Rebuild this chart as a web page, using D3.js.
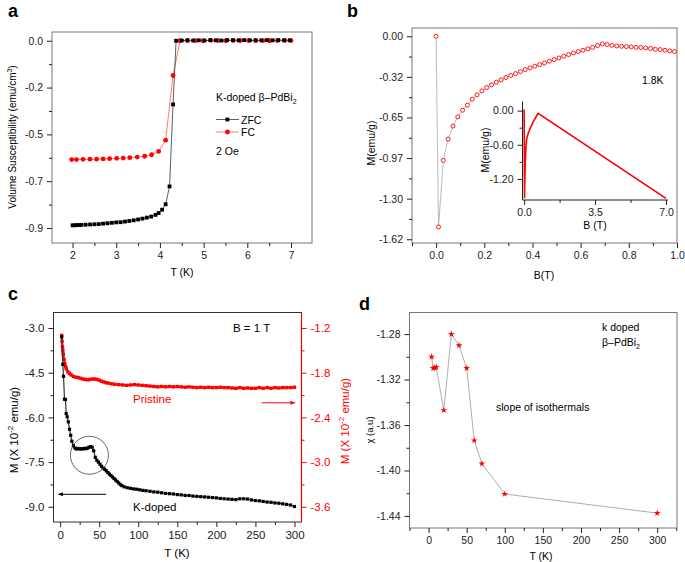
<!DOCTYPE html>
<html><head><meta charset="utf-8">
<script src="https://cdn.jsdelivr.net/npm/d3@7"></script>
<style>body{margin:0;background:#fff}svg{display:block}text{font-family:"Liberation Sans",Arial,sans-serif}</style>
</head><body><svg id="chart" width="685" height="562"></svg>
<script>
// ---------- Panel a ----------
const aZfcT = [2.0,2.05,2.1,2.15,2.2,2.3,2.4,2.5,2.6,2.7,2.8,2.9,3.0,3.1,3.2,3.3,3.4,3.5,3.6,3.7,3.8,3.9,3.97,4.05,4.13,4.22,4.3,4.37,4.5,4.63,4.76,4.89,5.02,5.15,5.28,5.41,5.54,5.67,5.8,5.93,6.06,6.19,6.32,6.45,6.58,6.71,6.84,6.97];
const aZfcV = [-0.887,-0.887,-0.886,-0.886,-0.885,-0.884,-0.883,-0.882,-0.881,-0.879,-0.877,-0.875,-0.873,-0.872,-0.869,-0.866,-0.863,-0.859,-0.855,-0.850,-0.845,-0.837,-0.828,-0.812,-0.786,-0.700,-0.306,0.0,0.001,0.002,0.001,0.002,0.001,0.003,0.002,0.001,0.003,0.002,0.002,0.003,0.002,0.001,0.002,0.003,0.002,0.003,0.002,0.002];
const aFcT = [1.98,2.09,2.24,2.40,2.55,2.70,2.85,3.01,3.16,3.31,3.48,3.65,3.81,3.97,4.13,4.30,4.46,4.63,4.81,4.99,5.17,5.33,5.51,5.68,5.84,6.03,6.19,6.36,6.51,6.69,6.86,7.0];
const aFcV = [-0.571,-0.571,-0.570,-0.569,-0.569,-0.568,-0.567,-0.565,-0.564,-0.562,-0.559,-0.555,-0.548,-0.532,-0.478,-0.167,0.0,0.001,0.001,0.0,0.002,0.001,0.0,0.002,0.001,0.001,0.002,0.001,0.0,0.001,0.002,0.001];
const aXTicks = [2,3,4,5,6,7];
const aXMinor = [2.5,3.5,4.5,5.5,6.5];
const aYTicks = [0,-0.225,-0.45,-0.675,-0.9];
const aYLabels = ["0.0","-0.2","-0.5","-0.7","-0.9"];
const aYMinor = [-0.1125,-0.3375,-0.5625,-0.7875];

// ---------- Panel b ----------
const bB = [0,0.01,0.03,0.05,0.07,0.09,0.11,0.13,0.15,0.17,0.19,0.21,0.23,0.25,0.27,0.29,0.31,0.33,0.35,0.37,0.39,0.41,0.43,0.45,0.47,0.49,0.51,0.53,0.55,0.57,0.59,0.61,0.63,0.65,0.67,0.69,0.71,0.73,0.75,0.77,0.79,0.81,0.83,0.85,0.87,0.89,0.91,0.93,0.95,0.97,0.99];
const bM = [0,-1.522,-0.991,-0.821,-0.717,-0.643,-0.590,-0.550,-0.502,-0.468,-0.436,-0.409,-0.388,-0.367,-0.348,-0.329,-0.313,-0.298,-0.282,-0.266,-0.252,-0.239,-0.226,-0.213,-0.199,-0.186,-0.173,-0.159,-0.146,-0.133,-0.122,-0.112,-0.101,-0.088,-0.074,-0.061,-0.066,-0.072,-0.077,-0.080,-0.082,-0.085,-0.088,-0.090,-0.093,-0.098,-0.104,-0.106,-0.112,-0.117,-0.122];
const bXTicks = [0,0.2,0.4,0.6,0.8,1.0];
const bXLabels = ["0.0","0.2","0.4","0.6","0.8","1.0"];
const bXMinor = [-0.1,0.1,0.3,0.5,0.7,0.9];
const bYTicks = [0,-0.324,-0.648,-0.972,-1.296,-1.62];
const bYLabels = ["0.00","-0.32","-0.65","-0.97","-1.30","-1.62"];
const bYMinor = [-0.162,-0.486,-0.81,-1.134,-1.458];
// inset
const iB = [0,0.01,0.02,0.03,0.05,0.08,0.12,0.2,0.3,0.46,0.6,0.69,7.0];
const iM = [0.02,-0.8,-1.54,-1.3,-0.98,-0.7,-0.51,-0.4,-0.31,-0.19,-0.1,-0.05,-1.54];
const iXTicks = [0,3.5,7];
const iXLabels = ["0.0","3.5","7.0"];
const iXMinor = [1.75,5.25];
const iYTicks = [0,-0.6,-1.2];
const iYLabels = ["0.00","-0.60","-1.20"];
const iYMinor = [-0.3,-0.9];

// ---------- Panel c ----------
const cKT = [2,3.4,4.3,5.6,6.8,7.7,9,10.5,12,13.5,15,17,19,21,23,25,27,29,31,33,35,37,39,41,43,45,47,49,51,53,55,57,59,61,63,65,67,69,71,73,75,77,79,82,86,90,94,98,102,106,110,115,120,125,130,135,140,145,150,155,160,165,170,175,180,185,190,195,200,205,210,215,220,225,230,235,240,245,250,255,260,265,270,275,280,285,290,295,300];
const cKV = [-3.30,-4.22,-4.62,-5.39,-5.40,-5.87,-5.98,-6.15,-6.40,-6.60,-6.80,-6.95,-7.03,-7.06,-7.04,-7.06,-7.05,-7.06,-7.04,-7.05,-7.03,-7.00,-6.98,-7.00,-7.12,-7.34,-7.44,-7.50,-7.57,-7.64,-7.70,-7.74,-7.79,-7.85,-7.90,-7.95,-8.00,-8.05,-8.10,-8.15,-8.20,-8.25,-8.29,-8.33,-8.36,-8.38,-8.40,-8.41,-8.43,-8.45,-8.46,-8.48,-8.50,-8.51,-8.53,-8.55,-8.56,-8.57,-8.59,-8.60,-8.62,-8.62,-8.64,-8.65,-8.66,-8.67,-8.68,-8.69,-8.70,-8.72,-8.73,-8.74,-8.75,-8.76,-8.73,-8.73,-8.74,-8.77,-8.79,-8.80,-8.82,-8.84,-8.85,-8.87,-8.88,-8.90,-8.92,-8.94,-8.99];
const cPT = [2,2.5,3,3.5,4,5,6,7,8,10,12,14,17,20,23,26,29,32,35,38,41,44,47,50,53,56,59,62,66,70,75,80,85,90,95,100,105,110,115,120,125,130,135,140,145,150,155,160,165,170,175,180,185,190,195,200,205,210,215,220,225,230,235,240,245,250,255,260,265,270,275,280,285,290,295,300];
const cPV = [-1.30,-1.38,-1.45,-1.50,-1.55,-1.62,-1.68,-1.72,-1.75,-1.79,-1.81,-1.83,-1.85,-1.86,-1.865,-1.875,-1.885,-1.89,-1.895,-1.89,-1.885,-1.885,-1.89,-1.90,-1.915,-1.925,-1.935,-1.94,-1.95,-1.955,-1.96,-1.965,-1.97,-1.965,-1.96,-1.965,-1.97,-1.975,-1.98,-1.985,-1.99,-1.985,-1.99,-1.985,-1.99,-1.985,-1.99,-1.995,-1.99,-1.995,-2.0,-1.995,-2.0,-1.995,-2.0,-2.0,-1.995,-2.0,-2.0,-2.005,-2.01,-2.0,-2.01,-2.005,-2.01,-2.01,-2.0,-2.01,-2.0,-2.01,-2.0,-2.005,-2.0,-2.0,-2.0,-1.995];
const cXTicks = [0,50,100,150,200,250,300];
const cXMinor = [25,75,125,175,225,275];
const cYTicks = [-3.0,-4.5,-6.0,-7.5,-9.0];
const cYLabels = ["-3.0","-4.5","-6.0","-7.5","-9.0"];
const cYMinor = [-3.75,-5.25,-6.75,-8.25];
const cRTicks = [-1.2,-1.8,-2.4,-3.0,-3.6];
const cRLabels = ["-1.2","-1.8","-2.4","-3.0","-3.6"];
const cRMinor = [-1.5,-2.1,-2.7,-3.3];

// ---------- Panel d ----------
const dT = [4,6,8,10,20,30,40,50,60,70,100,300];
const dChi = [-1.300,-1.310,-1.3097,-1.309,-1.347,-1.280,-1.290,-1.310,-1.3736,-1.394,-1.4207,-1.4375];
const dXTicks = [0,50,100,150,200,250,300];
const dXMinor = [-25,25,75,125,175,225,275,325];
const dYTicks = [-1.28,-1.32,-1.36,-1.40,-1.44];
const dYLabels = ["-1.28","-1.32","-1.36","-1.40","-1.44"];
const dYMinor = [-1.30,-1.34,-1.38,-1.42];

const svg = d3.select("#chart");
const FONT = "'Liberation Sans', Arial, sans-serif";

function styleAxis(g, color, fs) {
  g.select(".domain").remove();
  g.selectAll("line").attr("stroke", color);
  g.selectAll("text").attr("fill", color).attr("font-size", fs).attr("font-family", FONT);
}
function leftAxis(g, y, x0, ticks, labels, minor, color, fs) {
  const a = g.append("g").attr("transform", `translate(${x0},0)`)
    .call(d3.axisLeft(y).tickValues(ticks).tickFormat((d,i)=>labels[i]).tickSize(5).tickPadding(4));
  styleAxis(a, color, fs);
  const m = g.append("g").attr("transform", `translate(${x0},0)`)
    .call(d3.axisLeft(y).tickValues(minor).tickFormat("").tickSize(3));
  styleAxis(m, color, fs);
}
function rightAxis(g, y, x0, ticks, labels, minor, color, fs) {
  const a = g.append("g").attr("transform", `translate(${x0},0)`)
    .call(d3.axisRight(y).tickValues(ticks).tickFormat((d,i)=>labels[i]).tickSize(5).tickPadding(4));
  styleAxis(a, color, fs);
  const m = g.append("g").attr("transform", `translate(${x0},0)`)
    .call(d3.axisRight(y).tickValues(minor).tickFormat("").tickSize(3));
  styleAxis(m, color, fs);
}
function bottomAxis(g, x, y0, ticks, labels, minor, color, fs) {
  const a = g.append("g").attr("transform", `translate(0,${y0})`)
    .call(d3.axisBottom(x).tickValues(ticks).tickFormat((d,i)=>labels[i]).tickSize(5).tickPadding(4));
  styleAxis(a, color, fs);
  const m = g.append("g").attr("transform", `translate(0,${y0})`)
    .call(d3.axisBottom(x).tickValues(minor).tickFormat("").tickSize(3));
  styleAxis(m, color, fs);
}
function frame(g, x, y, stroke) {
  const [x0,x1] = x.range(), [y0,y1] = y.range();
  g.append("rect").attr("x", x0).attr("y", Math.min(y0,y1)).attr("width", x1-x0).attr("height", Math.abs(y1-y0))
    .attr("fill","none").attr("stroke", stroke).attr("stroke-width", 1);
}
function label(g, x, y, txt, fs, opts={}) {
  const t = g.append("text").attr("x", x).attr("y", y).attr("font-size", fs)
    .attr("font-family", opts.family || FONT).attr("fill", opts.fill || "#000")
    .attr("text-anchor", opts.anchor || "start").text(txt);
  if (opts.weight) t.attr("font-weight", opts.weight);
  if (opts.rotate) t.attr("transform", `rotate(-90,${x},${y})`);
  return t;
}
function letter(x, y, s) {
  label(svg, x, y, s, 18, {family:"'Liberation Serif', 'Times New Roman', serif", weight:"bold"});
}

// ===== Panel a =====
{
  const g = svg.append("g");
  const x = d3.scaleLinear().domain([1.53, 7.48]).range([52, 312]);
  const y = d3.scaleLinear().domain([0.042, -0.972]).range([32, 243]);
  frame(g, x, y, "#777");
  leftAxis(g, y, 52, aYTicks, aYLabels, aYMinor, "#222", 10.5);
  bottomAxis(g, x, 243, aXTicks, aXTicks.map(String), aXMinor, "#222", 10.5);
  const line = d3.line().x(d=>x(d[0])).y(d=>y(d[1]));
  const zfc = aZfcT.map((t,i)=>[t,aZfcV[i]]);
  const fc = aFcT.map((t,i)=>[t,aFcV[i]]);
  g.append("path").datum(fc).attr("d", line).attr("fill","none").attr("stroke","#f55").attr("stroke-width",0.8);
  g.append("path").datum(zfc).attr("d", line).attr("fill","none").attr("stroke","#333").attr("stroke-width",0.8);
  g.selectAll(".fc").data(fc).enter().append("circle").attr("cx",d=>x(d[0])).attr("cy",d=>y(d[1])).attr("r",2.4).attr("fill","#f00");
  g.selectAll(".zfc").data(zfc).enter().append("rect").attr("x",d=>x(d[0])-1.9).attr("y",d=>y(d[1])-1.9).attr("width",3.8).attr("height",3.8).attr("fill","#000");
  // legend
  const t = label(g, 216, 101, "K-doped β–PdBi", 10.5);
  t.append("tspan").attr("dy", 3).attr("font-size", 7).text("2");
  g.append("line").attr("x1",216).attr("x2",239).attr("y1",119.5).attr("y2",119.5).attr("stroke","#333").attr("stroke-width",0.8);
  g.append("rect").attr("x",225.5).attr("y",117.6).attr("width",3.8).attr("height",3.8).attr("fill","#000");
  label(g, 241, 123.5, "ZFC", 10.5);
  g.append("line").attr("x1",216).attr("x2",239).attr("y1",132).attr("y2",132).attr("stroke","#f55").attr("stroke-width",0.8);
  g.append("circle").attr("cx",227.5).attr("cy",132).attr("r",2.4).attr("fill","#f00");
  label(g, 241, 136, "FC", 10.5);
  label(g, 216, 155, "2 Oe", 10.5);
  const yl = label(g, 16, 137, "Volume Susceptibility (emu/cm", 10, {anchor:"middle", rotate:true});
  yl.append("tspan").attr("dy",-4).attr("font-size",7).text("3");
  yl.append("tspan").attr("dy",4).text(")");
  label(g, 182, 276, "T (K)", 10.5, {anchor:"middle"});
  letter(8, 17, "a");
}

// ===== Panel b =====
{
  const g = svg.append("g");
  const x = d3.scaleLinear().domain([-0.1, 1.0]).range([412, 677]);
  const y = d3.scaleLinear().domain([0.066, -1.65]).range([28, 243]);
  frame(g, x, y, "#777");
  leftAxis(g, y, 412, bYTicks, bYLabels, bYMinor, "#222", 10.5);
  bottomAxis(g, x, 243, bXTicks, bXLabels, bXMinor, "#222", 10.5);
  const pts = bB.map((b,i)=>[b,bM[i]]);
  const line = d3.line().x(d=>x(d[0])).y(d=>y(d[1]));
  g.append("path").datum(pts).attr("d", line).attr("fill","none").attr("stroke","#aaa").attr("stroke-width",0.8);
  g.selectAll(".pb").data(pts).enter().append("circle").attr("cx",d=>x(d[0])).attr("cy",d=>y(d[1])).attr("r",2)
    .attr("fill","#fff").attr("stroke","#f00").attr("stroke-width",0.9);
  label(g, 642, 84, "1.8K", 10.5);
  label(g, 375, 143, "M(emu/g)", 10.5, {anchor:"middle", rotate:true});
  label(g, 544, 279, "B(T)", 10.5, {anchor:"middle"});
  // inset
  const xi = d3.scaleLinear().domain([-0.08, 7.1]).range([522.5, 668]);
  const yi = d3.scaleLinear().domain([0.16, -1.57]).range([101.5, 200]);
  g.append("line").attr("x1",522.5).attr("x2",522.5).attr("y1",101.5).attr("y2",200).attr("stroke","#222");
  g.append("line").attr("x1",522.5).attr("x2",668).attr("y1",200).attr("y2",200).attr("stroke","#222");
  leftAxis(g, yi, 522.5, iYTicks, iYLabels, iYMinor, "#222", 10.5);
  bottomAxis(g, xi, 200, iXTicks, iXLabels, iXMinor, "#222", 10.5);
  const ipts = iB.map((b,i)=>[b,iM[i]]);
  const iline = d3.line().x(d=>xi(d[0])).y(d=>yi(d[1]));
  g.append("path").datum(ipts).attr("d", iline).attr("fill","none").attr("stroke","#f00").attr("stroke-width",1.6);
  label(g, 489, 150, "M(emu/g)", 10.5, {anchor:"middle", rotate:true});
  label(g, 595, 229, "B (T)", 10.5, {anchor:"middle"});
  letter(347, 17, "b");
}

// ===== Panel c =====
{
  const g = svg.append("g");
  const x = d3.scaleLinear().domain([-8.5, 309]).range([53.5, 301.5]);
  const y = d3.scaleLinear().domain([-2.48, -9.51]).range([312.5, 522]);
  const yr = d3.scaleLinear().domain([-2.48*0.4, -9.51*0.4]).range([312.5, 522]);
  frame(g, x, y, "#333");
  g.append("line").attr("x1",301.5).attr("x2",301.5).attr("y1",312.5).attr("y2",522).attr("stroke","#f00").attr("stroke-width",1.2);
  leftAxis(g, y, 53.5, cYTicks, cYLabels, cYMinor, "#222", 11.5);
  rightAxis(g, yr, 301.5, cRTicks, cRLabels, cRMinor, "#f00", 11.5);
  bottomAxis(g, x, 522, cXTicks, cXTicks.map(String), cXMinor, "#222", 11.5);
  const kp = cKT.map((t,i)=>[t,cKV[i]]);
  const pp = cPT.map((t,i)=>[t,cPV[i]]);
  g.append("path").datum(pp).attr("d", d3.line().x(d=>x(d[0])).y(d=>yr(d[1]))).attr("fill","none").attr("stroke","#f00").attr("stroke-width",2);
  g.selectAll(".pp").data(pp).enter().append("rect").attr("x",d=>x(d[0])-1.7).attr("y",d=>yr(d[1])-1.7).attr("width",3.4).attr("height",3.4).attr("fill","#f00");
  g.append("path").datum(kp).attr("d", d3.line().x(d=>x(d[0])).y(d=>y(d[1]))).attr("fill","none").attr("stroke","#333").attr("stroke-width",1.2);
  g.selectAll(".kp").data(kp).enter().append("rect").attr("x",d=>x(d[0])-1.6).attr("y",d=>y(d[1])-1.6).attr("width",3.2).attr("height",3.2).attr("fill","#000");
  // annotations
  g.append("circle").attr("cx", x(37.5)).attr("cy", y(-7.27)).attr("r", 19).attr("fill","none").attr("stroke","#444").attr("stroke-width",0.8);
  const defs = svg.append("defs");
  defs.append("marker").attr("id","ahK").attr("viewBox","0 0 10 10").attr("refX",9).attr("refY",5).attr("markerWidth",7).attr("markerHeight",5).attr("orient","auto")
    .append("path").attr("d","M0,1 L10,5 L0,9 Z").attr("fill","#000");
  defs.append("marker").attr("id","ahR").attr("viewBox","0 0 10 10").attr("refX",9).attr("refY",5).attr("markerWidth",7).attr("markerHeight",5).attr("orient","auto")
    .append("path").attr("d","M0,1 L10,5 L0,9 Z").attr("fill","#f00");
  g.append("line").attr("x1",x(58.8)).attr("x2",x(-2.2)).attr("y1",y(-8.58)).attr("y2",y(-8.58)).attr("stroke","#000").attr("stroke-width",1).attr("marker-end","url(#ahK)");
  g.append("line").attr("x1",x(258)).attr("x2",x(300.5)).attr("y1",yr(-2.204)).attr("y2",yr(-2.204)).attr("stroke","#f00").attr("stroke-width",1).attr("marker-end","url(#ahR)");
  label(g, 233, 332, "B = 1 T", 11.5);
  label(g, 133, 403, "Pristine", 11.5, {fill:"#f00"});
  label(g, 133, 511, "K-doped", 11.5);
  const yl = label(g, 18, 430, "M (X 10", 11.5, {anchor:"middle", rotate:true});
  yl.append("tspan").attr("dy",-5).attr("font-size",8).text("-2");
  yl.append("tspan").attr("dy",5).text(" emu/g)");
  const yr2 = label(g, 349, 421, "M (X 10", 11.5, {anchor:"middle", rotate:true, fill:"#f00"});
  yr2.append("tspan").attr("dy",-5).attr("font-size",8).text("-2");
  yr2.append("tspan").attr("dy",5).text(" emu/g)");
  label(g, 177, 557, "T (K)", 11.5, {anchor:"middle"});
  letter(8, 300, "c");
}

// ===== Panel d =====
{
  const g = svg.append("g");
  const x = d3.scaleLinear().domain([-25, 326]).range([409.5, 677]);
  const y = d3.scaleLinear().domain([-1.261, -1.4506]).range([312.5, 528]);
  frame(g, x, y, "#777");
  leftAxis(g, y, 409.5, dYTicks, dYLabels, dYMinor, "#222", 10.5);
  bottomAxis(g, x, 528, dXTicks, dXTicks.map(String), dXMinor, "#222", 10.5);
  const pts = dT.map((t,i)=>[t,dChi[i]]);
  g.append("path").datum(pts).attr("d", d3.line().x(d=>x(d[0])).y(d=>y(d[1]))).attr("fill","none").attr("stroke","#999").attr("stroke-width",0.8);
  g.selectAll(".st").data(pts).enter().append("path").attr("d", d3.symbol().type(d3.symbolStar).size(14))
    .attr("transform", d=>`translate(${x(d[0])},${y(d[1])})`).attr("fill","#f00");
  label(g, 602, 331, "k doped", 10.5);
  const t = label(g, 602, 346, "β–PdBi", 10.5);
  t.append("tspan").attr("dy",3).attr("font-size",7).text("2");
  label(g, 496, 411, "slope of isothermals", 10.5, {family:"'Liberation Serif', 'Times New Roman', serif"});
  label(g, 373, 430, "χ (a.u)", 9.5, {anchor:"middle", rotate:true, family:"'Liberation Serif', 'Times New Roman', serif"});
  label(g, 541, 560, "T (K)", 10.5, {anchor:"middle"});
  letter(359, 310, "d");
}
</script></body></html>
